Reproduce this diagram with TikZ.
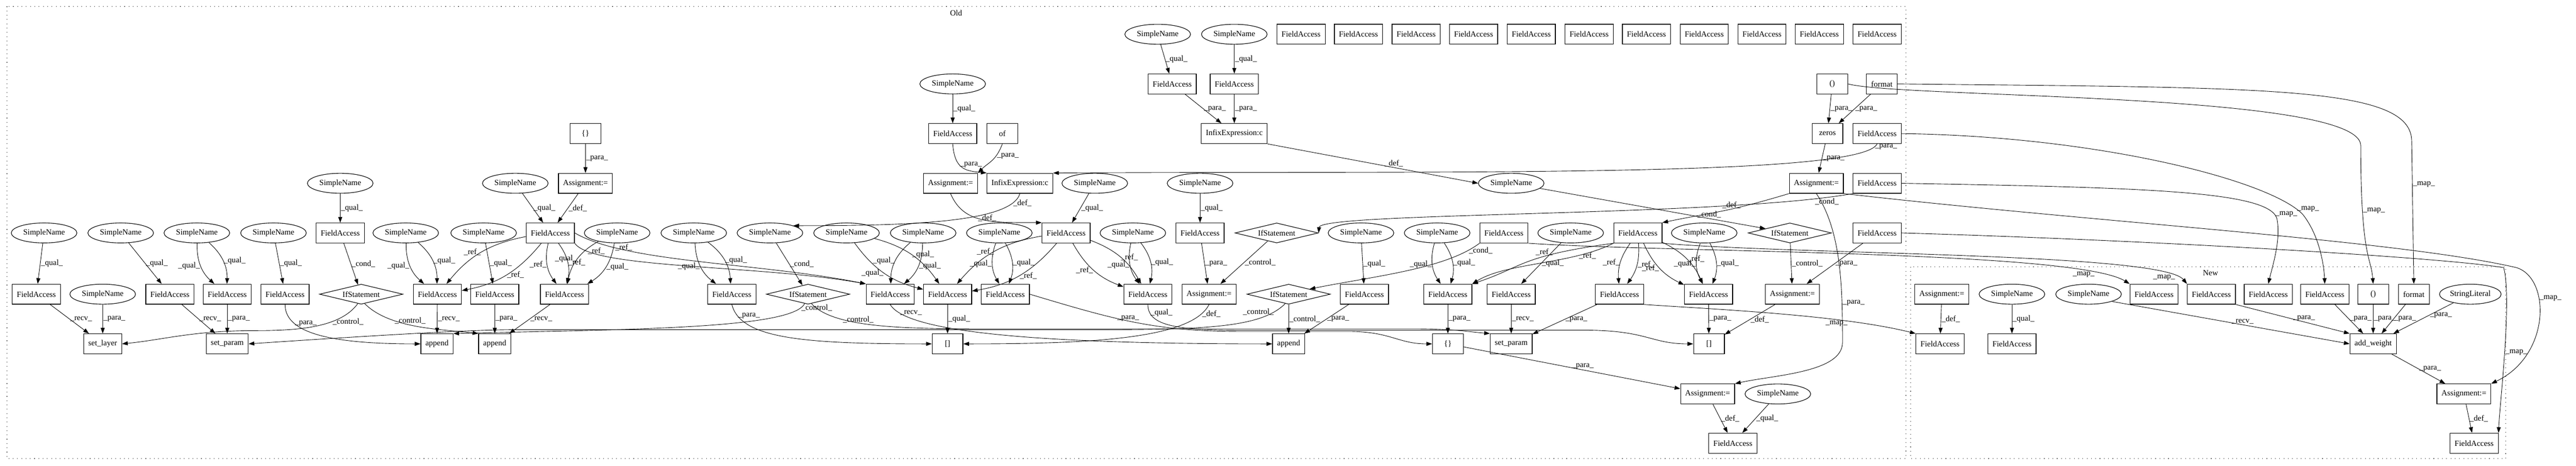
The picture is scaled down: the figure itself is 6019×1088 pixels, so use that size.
\documentclass[tikz,border=0pt]{standalone}
\usepackage{fontspec}
\setmainfont{Liberation Serif}
\usetikzlibrary{shapes.geometric}
\usetikzlibrary{arrows.meta}
\tikzset{fa/.style={draw,line width=1.1pt,rectangle,minimum width=54pt,minimum height=35pt,inner xsep=8pt}}
\tikzset{sn/.style={draw,line width=1pt,ellipse,minimum width=115pt,minimum height=35pt,inner sep=0pt}}
\tikzset{ifst/.style={draw,line width=1pt,diamond,aspect=4.2,minimum width=146pt,minimum height=35pt,inner sep=0pt}}
\tikzset{arr/.style={-{Triangle[length=10pt,width=7pt]},line width=0.8pt}}
\tikzset{lbl/.style={inner sep=1pt}}
\tikzset{cluster/.style={line width=1pt,dash pattern=on 1pt off 6.5pt}}

\begin{document}
\begin{tikzpicture}[x=0.75pt,y=-0.75pt,font=\fontsize{14}{16}\selectfont]
	\useasboundingbox (0,0) rectangle (6019,1088);
	\draw[cluster] (16,15) rectangle (4453,1071);
	\draw[cluster] (4464,623) rectangle (5855,1071);
	\node (oldlbl) at (2234,30) {Old};
	\node (newlbl) at (5165,637) {New};
	% Old
	\node[sn] (sn1) at (2705,80) {SimpleName};
	\node[sn] (sn2) at (2884,80) {SimpleName};
	\node[fa] (top0) at (3040,80) {FieldAccess};
	\node[fa] (top1) at (3174,80) {FieldAccess};
	\node[fa] (top2) at (3309,80) {FieldAccess};
	\node[fa] (top3) at (3443,80) {FieldAccess};
	\node[fa] (top4) at (3578,80) {FieldAccess};
	\node[fa] (top5) at (3713,80) {FieldAccess};
	\node[fa] (top6) at (3847,80) {FieldAccess};
	\node[fa] (top7) at (3982,80) {FieldAccess};
	\node[fa] (top8) at (4117,80) {FieldAccess};
	\node[fa] (top9) at (4251,80) {FieldAccess};
	\node[fa] (top10) at (4386,80) {FieldAccess};

	\node[sn] (sn3) at (2226,196) {SimpleName};
	\node[fa] (fa1) at (2739,196) {FieldAccess};
	\node[fa] (fa2) at (2884,196) {FieldAccess};
	\node[fa] (par1) at (4281,196) {()};
	\node[fa] (fmt1) at (4397,196) {format};

	\node[fa] (br1) at (1368,312) {\{\}};
	\node[fa] (fa3) at (2226,312) {FieldAccess};
	\node[fa] (of1) at (2342,312) {of};
	\node[fa] (inf1) at (2884,312) {InfixExpression:c};
	\node[fa] (zeros) at (4270,312) {zeros};
	\node[fa] (fa4) at (4386,312) {FieldAccess};

	\node[sn] (sn4) at (795,428) {SimpleName};
	\node[sn] (sn5) at (1204,428) {SimpleName};
	\node[fa] (as1) at (1368,428) {Assignment:=};
	\node[fa] (as2) at (2221,428) {Assignment:=};
	\node[fa] (inf2) at (2383,428) {InfixExpression:c};
	\node[sn] (sn6) at (2558,428) {SimpleName};
	\node[sn] (sn7) at (2804,428) {SimpleName};
	\node[sn] (sn8) at (3531,428) {SimpleName};
	\node[fa] (as3) at (4244,428) {Assignment:=};
	\node[fa] (fa5) at (4386,428) {FieldAccess};

	\node[sn] (sn9) at (103,544) {SimpleName};
	\node[sn] (sn10) at (282,544) {SimpleName};
	\node[sn] (sn11) at (460,544) {SimpleName};
	\node[sn] (sn12) at (639,544) {SimpleName};
	\node[fa] (fa6) at (795,544) {FieldAccess};
	\node[sn] (sn13) at (948,544) {SimpleName};
	\node[sn] (sn14) at (1130,544) {SimpleName};
	\node[fa] (fa7) at (1286,544) {FieldAccess};
	\node[sn] (sn15) at (1442,544) {SimpleName};
	\node[sn] (sn16) at (1621,544) {SimpleName};
	\node[sn] (sn17) at (1799,544) {SimpleName};
	\node[sn] (sn18) at (1978,544) {SimpleName};
	\node[sn] (sn19) at (2157,544) {SimpleName};
	\node[sn] (sn20) at (2335,544) {SimpleName};
	\node[fa] (fa8) at (2491,544) {FieldAccess};
	\node[sn] (sn21) at (2647,544) {SimpleName};
	\node[fa] (fa9) at (2804,544) {FieldAccess};
	\node[ifst] (if1) at (2983,544) {IfStatement};
	\node[sn] (sn22) at (3180,544) {SimpleName};
	\node[sn] (sn23) at (3358,544) {SimpleName};
	\node[fa] (fa10) at (3514,544) {FieldAccess};
	\node[sn] (sn24) at (3670,544) {SimpleName};
	\node[fa] (fa11) at (3827,544) {FieldAccess};
	\node[sn] (sn25) at (3982,544) {SimpleName};
	\node[ifst] (if2) at (4182,544) {IfStatement};
	\node[fa] (fa12) at (4386,544) {FieldAccess};

	\node[fa] (fa13) at (85,687) {FieldAccess};
	\node[sn] (sn26) at (240,687) {SimpleName};
	\node[fa] (fa14) at (397,687) {FieldAccess};
	\node[fa] (fa15) at (531,687) {FieldAccess};
	\node[fa] (fa16) at (666,687) {FieldAccess};
	\node[ifst] (if3) at (844,687) {IfStatement};
	\node[fa] (fa17) at (1022,687) {FieldAccess};
	\node[fa] (fa18) at (1156,687) {FieldAccess};
	\node[fa] (fa19) at (1319,687) {FieldAccess};
	\node[fa] (fa20) at (1710,687) {FieldAccess};
	\node[ifst] (if4) at (1888,687) {IfStatement};
	\node[fa] (fa21) at (2080,687) {FieldAccess};
	\node[fa] (fa22) at (2214,687) {FieldAccess};
	\node[fa] (fa23) at (2349,687) {FieldAccess};
	\node[fa] (fa24) at (2682,687) {FieldAccess};
	\node[fa] (as4) at (2825,687) {Assignment:=};
	\node[ifst] (if5) at (3011,687) {IfStatement};
	\node[fa] (fa25) at (3188,687) {FieldAccess};
	\node[fa] (fa26) at (3383,687) {FieldAccess};
	\node[fa] (fa27) at (3531,687) {FieldAccess};
	\node[fa] (fa28) at (3784,687) {FieldAccess};
	\node[fa] (fa29) at (3992,687) {FieldAccess};
	\node[fa] (as5) at (4188,687) {Assignment:=};

	\node[fa] (setlayer) at (240,803) {set\_layer};
	\node[fa] (setp1) at (531,803) {set\_param};
	\node[fa] (app1) at (1021,803) {append};
	\node[fa] (app2) at (1156,803) {append};
	\node[fa] (sq1) at (2214,803) {[]};
	\node[fa] (app3) at (3011,803) {append};
	\node[fa] (br2) at (3383,803) {\{\}};
	\node[fa] (setp2) at (3531,803) {set\_param};
	\node[fa] (sq2) at (3993,803) {[]};
	\node[fa] (as6) at (3990,920) {Assignment:=};
	\node[sn] (sn27) at (4154,920) {SimpleName};
	\node[fa] (fa30) at (4049,1035) {FieldAccess};
	% New
	\node[fa] (nas1) at (4537,687) {Assignment:=};
	\node[sn] (nsn1) at (4701,687) {SimpleName};
	\node[sn] (nsn2) at (4880,687) {SimpleName};
	\node[fa] (nfa1) at (5033,687) {FieldAccess};
	\node[fa] (nfa2) at (5167,687) {FieldAccess};
	\node[fa] (nfa3) at (5300,687) {FieldAccess};
	\node[fa] (nfa4) at (5432,687) {FieldAccess};
	\node[fa] (npar) at (5545,687) {()};
	\node[fa] (nfmt) at (5640,687) {format};
	\node[sn,minimum width=108pt] (nstr) at (5772,687) {StringLiteral};
	\node[fa] (nfa5) at (4533,803) {FieldAccess};
	\node[fa] (nfa6) at (4701,803) {FieldAccess};
	\node[fa] (addw) at (5545,803) {add\_weight};
	\node[fa] (nas2) at (5757,920) {Assignment:=};
	\node[fa] (nfa7) at (5781,1035) {FieldAccess};

	% upper part of Old
	\draw[arr] (sn1) -- node[lbl,right] {\_qual\_} (fa1);
	\draw[arr] (sn2) -- node[lbl,right] {\_qual\_} (fa2);
	\draw[arr] (fa1) -- node[lbl,right] {\_para\_} (inf1);
	\draw[arr] (fa2) -- node[lbl,right] {\_para\_} (inf1);
	\draw[arr] (inf1.south east) -- node[lbl,above,pos=.6] {\_def\_} (sn8.west);
	\draw[arr] (sn3) -- node[lbl,right] {\_qual\_} (fa3);
	\draw[arr] (fa3.south) .. controls +(5,60) and +(-50,-5) .. (inf2.north west) node[lbl,right,pos=.4] {\_para\_};
	\draw[arr] (of1.south) .. controls +(-15,40) and +(25,-25) .. (as2.north east) node[lbl,right,pos=.3] {\_para\_};
	\draw[arr] (as2.south) .. controls +(30,70) and +(-120,0) .. (fa8.north west) node[lbl,right,pos=.45] {\_def\_};
	\draw[arr] (inf2.south) .. controls +(-20,70) and +(250,0) .. (sn17.north east) node[lbl,right,pos=.12] {\_def\_};
	\draw[arr] (fa4.south) .. controls +(-40,80) and +(900,-5) .. (inf2.north east) node[lbl,right,pos=.03] {\_para\_};
	\draw[arr] (par1) -- node[lbl,right] {\_para\_} (zeros);
	\draw[arr] (fmt1) -- node[lbl,right] {\_para\_} (zeros);
	\draw[arr] (zeros) -- node[lbl,right] {\_para\_} (as3);
	\draw[arr] (as3.south west) .. controls +(-150,45) and +(120,-25) .. (fa11.north east) node[lbl,above,pos=.4] {\_def\_};
	\draw[arr] (fa5.south west) .. controls (4030,506) and (3085,495) .. (if1.east) node[lbl,below,pos=.06] {\_cond\_};
	\draw[arr] (sn8) -- node[lbl,above,pos=.75] {\_cond\_} (if2);
	\draw[arr] (as3.south) .. controls +(60,90) and +(0,-120) .. (4305,800) node[lbl,right,pos=.75] {\_para\_} .. controls +(0,70) and +(90,-20) .. (as6.north east);
	\draw[arr] (if2) -- node[lbl,right] {\_control\_} (as5);
	\draw[arr] (fa12) -- node[lbl,right] {\_para\_} (as5);
	\draw[arr] (as5) -- node[lbl,right] {\_def\_} (sq2);
	\draw[arr] (as6) -- node[lbl,right] {\_def\_} (fa30);
	\draw[arr] (sn27) -- node[lbl,right] {\_qual\_} (fa30);
	\draw[arr] (br1) -- node[lbl,right] {\_para\_} (as1);
	\draw[arr] (sn5) -- node[lbl,right] {\_qual\_} (fa7);
	\draw[arr] (as1) -- node[lbl,right] {\_def\_} (fa7);
	\draw[arr] (sn4) -- node[lbl,right] {\_qual\_} (fa6);
	\draw[arr] (fa6) -- node[lbl,right] {\_cond\_} (if3);
	% left part
	\draw[arr] (sn9) -- node[lbl,right] {\_qual\_} (fa13);
	\draw[arr] (fa13) -- node[lbl,right] {\_recv\_} (setlayer);
	\draw[arr] (sn26) -- node[lbl,right] {\_para\_} (setlayer);
	\draw[arr] (sn10) -- node[lbl,right] {\_qual\_} (fa14);
	\draw[arr] (fa14) -- node[lbl,right] {\_recv\_} (setp1);
	\draw[arr] (sn11) to[bend right=25] node[lbl,left] {\_qual\_} (fa15);
	\draw[arr] (sn11) to[bend left=25] node[lbl,right] {\_qual\_} (fa15);
	\draw[arr] (fa15) -- node[lbl,right] {\_para\_} (setp1);
	\draw[arr] (sn12) -- node[lbl,right] {\_qual\_} (fa16);
	\draw[arr] (fa16.south) .. controls +(0,70) and +(-200,0) .. (app1.west) node[lbl,right,pos=.25] {\_para\_};
	\draw[arr] (if3.250) .. controls +(-40,55) and +(100,0) .. (600,772) node[lbl,right,pos=.35] {\_control\_} .. controls +(-150,0) and +(100,-10) .. (setlayer.east);
	\draw[arr] (if3.290) .. controls +(60,60) and +(-80,-10) .. (app2.north west) node[lbl,right,pos=.3] {\_control\_};
	\draw[arr] (sn13) to[bend right=25] node[lbl,left] {\_qual\_} (fa17);
	\draw[arr] (sn13) to[bend left=25] node[lbl,right] {\_qual\_} (fa17);
	\draw[arr] (fa7) to[bend right=20] node[lbl,left] {\_ref\_} (fa17);
	\draw[arr] (fa7) to[bend left=20] node[lbl,right] {\_ref\_} (fa17);
	\draw[arr] (fa7) to[bend right=25] node[lbl,left] {\_ref\_} (fa19);
	\draw[arr] (fa7) to[bend left=25] node[lbl,right] {\_ref\_} (fa19);
	\draw[arr] (fa7.south east) .. controls +(40,60) and +(-250,-45) .. (fa21.north west) node[lbl,right,pos=.12] {\_ref\_};
	\draw[arr] (fa7.east) .. controls +(120,70) and +(-250,-50) .. (fa21.north west) node[lbl,right,pos=.2] {\_ref\_};
	\draw[arr] (sn14) -- node[lbl,right] {\_qual\_} (fa18);
	\draw[arr] (sn15) to[bend right=25] node[lbl,left] {\_qual\_} (fa19);
	\draw[arr] (sn15) to[bend left=25] node[lbl,right] {\_qual\_} (fa19);
	\draw[arr] (sn16) to[bend right=25] node[lbl,left] {\_qual\_} (fa20);
	\draw[arr] (sn16) to[bend left=25] node[lbl,right] {\_qual\_} (fa20);
	\draw[arr] (sn17) -- node[lbl,right] {\_cond\_} (if4);
	% middle part
	\draw[arr] (sn18) to[bend right=20] node[lbl,left] {\_qual\_} (fa22);
	\draw[arr] (sn18) to[bend left=20] node[lbl,right] {\_qual\_} (fa22);
	\draw[arr] (sn19) to[bend right=25] node[lbl,left] {\_qual\_} (fa21);
	\draw[arr] (sn19) to[bend left=25] node[lbl,right] {\_qual\_} (fa21);
	\draw[arr] (sn20) to[bend right=25] node[lbl,left] {\_qual\_} (fa23);
	\draw[arr] (sn20) to[bend left=25] node[lbl,right] {\_qual\_} (fa23);
	\draw[arr] (fa8) to[bend right=20] node[lbl,left] {\_ref\_} (fa22);
	\draw[arr] (fa8) to[bend left=20] node[lbl,right] {\_ref\_} (fa22);
	\draw[arr] (fa8) to[bend right=20] node[lbl,left] {\_ref\_} (fa24);
	\draw[arr] (fa8) to[bend left=20] node[lbl,right] {\_ref\_} (fa24);
	\draw[arr] (sn21) to[bend right=25] node[lbl,left] {\_qual\_} (fa24);
	\draw[arr] (sn21) to[bend left=25] node[lbl,right] {\_qual\_} (fa24);
	\draw[arr] (sn6) -- node[lbl,right] {\_qual\_} (fa8);
	\draw[arr] (sn7) -- node[lbl,right] {\_qual\_} (fa9);
	\draw[arr] (fa9) -- node[lbl,right] {\_para\_} (as4);
	\draw[arr] (if1) -- node[lbl,right] {\_control\_} (as4);
	\draw[arr] (fa17) -- node[lbl,right] {\_recv\_} (app1);
	\draw[arr] (fa18) -- node[lbl,right] {\_para\_} (app2);
	\draw[arr] (fa19) -- node[lbl,right] {\_recv\_} (app2);
	\draw[arr] (fa20.south) .. controls +(20,80) and +(-300,0) .. (sq1.west) node[lbl,right,pos=.12] {\_para\_};
	\draw[arr] (if4.250) .. controls +(-30,60) and +(400,-10) .. (app1.north east) node[lbl,right,pos=.06] {\_control\_};
	\draw[arr] (if4.290) .. controls +(50,55) and +(-200,0) .. (2300,768) node[lbl,right,pos=.3] {\_control\_} -- (3300,768) .. controls +(100,0) and +(-60,-5) .. (setp2.north west);
	\draw[arr] (fa21.south) .. controls +(40,70) and +(-500,0) .. (app3.west) node[lbl,right,pos=.1] {\_recv\_};
	\draw[arr] (fa22) -- node[lbl,right] {\_qual\_} (sq1);
	\draw[arr] (fa23.east) .. controls +(200,60) and +(-200,0) .. (2900,774) node[lbl,right,pos=.4] {\_para\_} -- (3150,774) .. controls +(100,0) and +(-80,0) .. (br2.west);
	\draw[arr] (fa24.south) .. controls +(0,50) and +(-150,0) .. (2900,771) node[lbl,right,pos=.15] {\_qual\_} -- (3700,771) .. controls +(150,0) and +(-100,0) .. (sq2.west);
	\draw[arr] (as4.south) .. controls +(-40,80) and +(300,0) .. (sq1.east) node[lbl,right,pos=.1] {\_def\_};
	\draw[arr] (if5.250) .. controls +(-60,60) and +(300,0) .. (2500,770) node[lbl,left,pos=.12] {\_control\_} -- (1200,770) .. controls +(-100,0) and +(300,-20) .. (setp1.east);
	\draw[arr] (if5) -- node[lbl,right] {\_control\_} (app3);
	% right part
	\draw[arr] (fa25) -- node[lbl,right] {\_para\_} (app3);
	\draw[arr] (sn22) -- node[lbl,right] {\_qual\_} (fa25);
	\draw[arr] (sn23) to[bend right=25] node[lbl,left] {\_qual\_} (fa26);
	\draw[arr] (sn23) to[bend left=25] node[lbl,right] {\_qual\_} (fa26);
	\draw[arr] (fa10.south west) .. controls +(-80,60) and +(150,-30) .. (if5.north east) node[lbl,right,pos=.1] {\_cond\_};
	\draw[arr] (sn24) -- node[lbl,right] {\_qual\_} (fa27);
	\draw[arr] (fa11.south west) .. controls +(-100,50) and +(80,-50) .. (fa26.north east) node[lbl,right,pos=.25] {\_ref\_};
	\draw[arr] (fa11.south west) .. controls +(-220,30) and +(120,-40) .. (fa26.north east) node[lbl,above,pos=.35] {\_ref\_};
	\draw[arr] (fa11) to[bend right=20] node[lbl,left] {\_ref\_} (fa28);
	\draw[arr] (fa11) to[bend left=20] node[lbl,right] {\_ref\_} (fa28);
	\draw[arr] (fa11) to[bend right=20] node[lbl,left] {\_ref\_} (fa29);
	\draw[arr] (fa11) to[bend left=20] node[lbl,right] {\_ref\_} (fa29);
	\draw[arr] (sn25) to[bend right=25] node[lbl,left] {\_qual\_} (fa29);
	\draw[arr] (sn25) to[bend left=25] node[lbl,right] {\_qual\_} (fa29);
	\draw[arr] (fa26) -- node[lbl,right] {\_para\_} (br2);
	\draw[arr] (fa27) -- node[lbl,right] {\_recv\_} (setp2);
	\draw[arr] (fa28) -- node[lbl,right] {\_para\_} (setp2);
	\draw[arr] (fa29) -- node[lbl,right] {\_para\_} (sq2);
	\draw[arr] (br2) -- node[lbl,above,pos=.55] {\_para\_} (as6);
	% New
	\draw[arr] (nas1) -- node[lbl,right] {\_def\_} (nfa5);
	\draw[arr] (nsn1) -- node[lbl,right] {\_qual\_} (nfa6);
	\draw[arr] (nsn2.south east) -- node[lbl,above,pos=.55] {\_recv\_} (addw.west);
	\draw[arr] (nfa2.south east) -- node[lbl,above,pos=.6] {\_para\_} (addw.north west);
	\draw[arr] (nfa4) -- node[lbl,right] {\_para\_} (addw);
	\draw[arr] (npar) -- node[lbl,right] {\_para\_} (addw);
	\draw[arr] (nfmt) -- node[lbl,right] {\_para\_} (addw);
	\draw[arr] (nstr) -- node[lbl,right,pos=.4] {\_para\_} (addw);
	\draw[arr] (addw) -- node[lbl,right] {\_para\_} (nas2);
	\draw[arr] (nas2) -- node[lbl,right] {\_def\_} (nfa7);
	% map
	\draw[arr] (fmt1.east) .. controls (5300,205) and (5635,200) .. (5635,330) -- (nfmt.north) node[lbl,right,pos=.3] {\_map\_};
	\draw[arr] (par1.east) .. controls (4450,230) and (5516,215) .. (5516,340) .. controls (5516,600) and (5540,600) .. (npar.north) node[lbl,right,pos=.25] {\_map\_};
	\draw[arr] (fa4.east) .. controls (4900,318) and (5300,420) .. (5380,500) node[lbl,right,pos=.95] {\_map\_} .. controls (5420,550) and (5430,620) .. (nfa4.north);
	\draw[arr] (fa5.east) .. controls (5000,438) and (5300,445) .. (5320,510) node[lbl,right,pos=.95] {\_map\_} .. controls (5330,560) and (5310,620) .. (nfa3.north);
	\draw[arr] (as3.south east) .. controls (4900,520) and (5600,560) .. (5880,625) .. controls (5960,650) and (5960,830) .. (nas2.north east) node[lbl,right,pos=.35] {\_map\_};
	\draw[arr] (fa12.east) .. controls (5000,560) and (5700,600) .. (5850,625) .. controls (5870,700) and (5840,950) .. (nfa7.north east) node[lbl,right,pos=.5] {\_map\_};
	\draw[arr] (fa10.south east) .. controls (3900,590) and (4850,585) .. (nfa1.north west) node[lbl,below,pos=.85] {\_map\_};
	\draw[arr] (fa11.south east) .. controls (4200,595) and (5050,590) .. (nfa2.north west) node[lbl,below,pos=.88] {\_map\_};
	\draw[arr] (fa28.south east) .. controls (4000,722) and (4300,735) .. (nfa5.north west) node[lbl,below,pos=.7] {\_map\_};
\end{tikzpicture}
\end{document}
